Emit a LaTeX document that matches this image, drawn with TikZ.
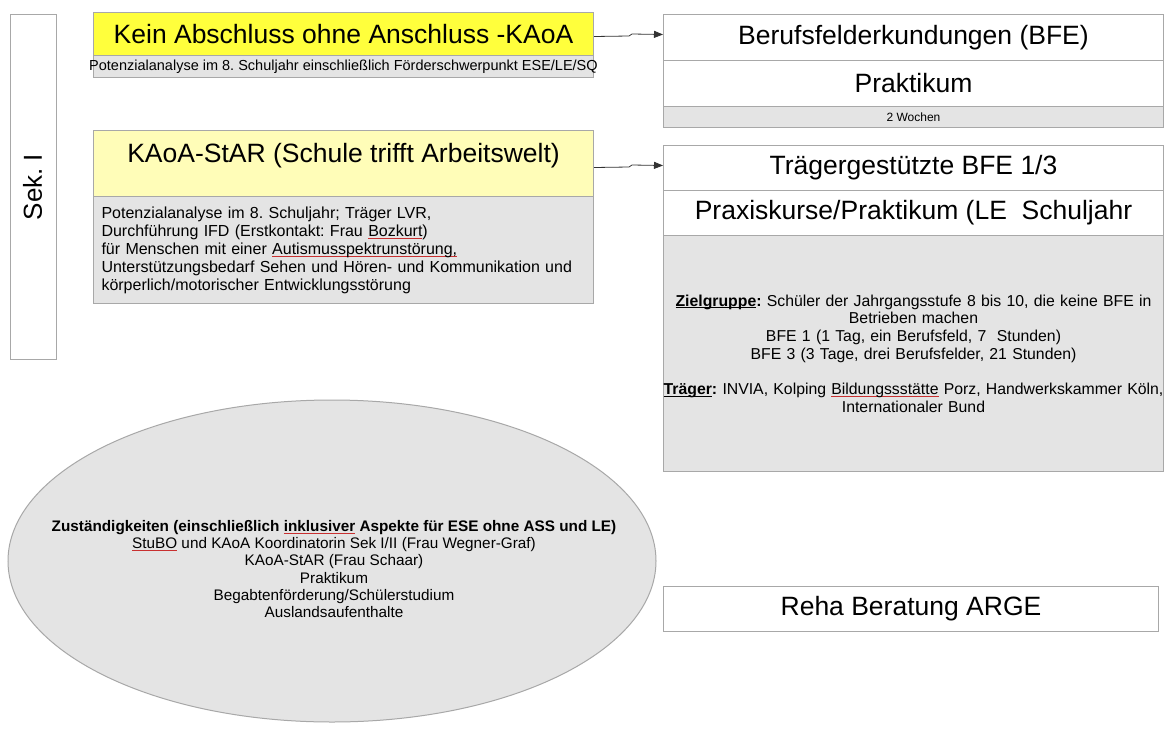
\documentclass[tikz,border=0pt]{standalone}
\usepackage{fontspec}
\setmainfont{Liberation Sans}
\usetikzlibrary{arrows.meta,shapes.geometric}
\definecolor{edge}{HTML}{A8A8A8}
\definecolor{ybright}{HTML}{FFFF3C}
\definecolor{ypale}{HTML}{FFFDB8}
\definecolor{grayfill}{HTML}{E4E4E4}
\definecolor{squig}{HTML}{C83030}
\frenchspacing
\newsavebox\spellbox
\newcommand\spellmark[1]{\sbox\spellbox{#1}\rlap{\textcolor{squig}{\rule[-0.3ex]{\wd\spellbox}{0.6pt}}}\usebox\spellbox}
\newcommand\ulword[1]{\sbox\spellbox{#1}\rlap{\rule[-0.25ex]{\wd\spellbox}{0.8pt}}\usebox\spellbox}
\tikzset{
  box/.style={draw=edge, line width=1pt, rectangle, anchor=north west, inner sep=0pt, align=center},
  bigtext/.style={font=\fontsize{26.5}{30}\selectfont},
  arr/.style={-{Triangle[length=9pt,width=7pt]}, line width=0.8pt, black!80},
}
\begin{document}
\begin{tikzpicture}[x=1pt,y=-1pt]
\useasboundingbox (0,0) rectangle (1168,742);
\fill[white] (0,0) rectangle (1168,742);

% Sek. I
\node[box, minimum width=46pt, minimum height=345pt] (sek) at (10,14) {};
\node[rotate=90, font=\fontsize{26}{30}\selectfont] (sektext) at ([xshift=-1pt]sek.center) {Sek. I};

% KAoA top
\node[box, fill=ybright, minimum width=500pt, minimum height=43pt, bigtext] (kaoa) at (93,12) {\raisebox{-1.5pt}{Kein Abschluss ohne Anschluss -KAoA}};
\node[box, fill=grayfill, minimum width=500pt, minimum height=22pt, font=\fontsize{14.5}{16}\selectfont] (kaoasub) at (93,55) {\raisebox{-2.5pt}{\makebox[500pt][c]{Potenzialanalyse im 8. Schuljahr einschließlich Förderschwerpunkt ESE/LE/SQ}}};

% KAoA-StAR
\node[box, fill=ypale, minimum width=500pt, minimum height=66pt, bigtext, text depth=22pt] (star) at (93,130) {KAoA-StAR (Schule trifft Arbeitswelt)};
\node[box, fill=grayfill, minimum width=500pt, minimum height=107pt, align=left, text width=484pt, font=\fontsize{16}{18}\selectfont] (starsub) at (93,196) {Potenzialanalyse im 8. Schuljahr; Träger LVR,\\
Durchführung IFD (Erstkontakt: Frau \spellmark{Bozkurt})\\
für Menschen mit einer \spellmark{Autismusspektrunstörung,}\\
Unterstützungsbedarf Sehen und Hören- und Kommunikation und\\
körperlich/motorischer Entwicklungsstörung};

% right top group
\node[box, minimum width=500pt, minimum height=46pt, bigtext] (bfe) at (663,14) {Berufsfelderkundungen (BFE)};
\node[box, minimum width=500pt, minimum height=46pt, bigtext] (prak) at (663,60) {Praktikum};
\node[box, fill=grayfill, minimum width=500pt, minimum height=21pt, font=\fontsize{12}{14}\selectfont] (wochen) at (663,106) {2 Wochen};

% right second group
\node[box, minimum width=500pt, minimum height=45pt, bigtext] (trager) at (663,145) {Trägergestützte BFE 1/3};
\node[box, minimum width=500pt, minimum height=45pt, bigtext] (praxis) at (663,190) {Praxiskurse/Praktikum (LE\ \ Schuljahr};
\node[box, fill=grayfill, minimum width=500pt, minimum height=236pt, text width=500pt, font=\fontsize{15.8}{17.7}\selectfont] (ziel) at (663,235) {\textbf{\ulword{Zielgruppe}:} Schüler der Jahrgangsstufe 8 bis 10, die keine BFE in\\
Betrieben machen\\
BFE 1 (1 Tag, ein Berufsfeld, 7\ \ Stunden)\\
BFE 3 (3 Tage, drei Berufsfelder, 21 Stunden)\\[17.7pt]
\makebox[0pt]{\textbf{\ulword{Träger}:} INVIA, Kolping \spellmark{Bildungssstätte} Porz, Handwerkskammer Köln,}\\
Internationaler Bund};

% Reha
\node[box, minimum width=495pt, minimum height=45pt, bigtext] (reha) at (663,586) {Reha Beratung ARGE};

% ellipse
\node[draw=edge, line width=1pt, fill=grayfill, ellipse, minimum width=648pt, minimum height=322pt, inner sep=0pt] (zust) at (332,561) {};
\node[align=center, font=\fontsize{15.3}{17.3}\selectfont] (zusttext) at (334,569) {\textbf{Zuständigkeiten (einschließlich \spellmark{inklusiver} Aspekte für ESE ohne ASS und LE)}\\
\spellmark{StuBO} und KAoA Koordinatorin Sek I/II (Frau Wegner-Graf)\\
KAoA-StAR (Frau Schaar)\\
Praktikum\\
Begabtenförderung/Schülerstudium\\
Auslandsaufenthalte};

% arrows
\draw[arr] ([yshift=-2.5pt]kaoa.east) -- (629,36) -- (632,34) -- ([yshift=3pt]bfe.west);
\draw[arr] ([yshift=-4pt]star.east) -- (629,167) -- (632,165) -- ([yshift=2.5pt]trager.west);
\end{tikzpicture}
\end{document}
